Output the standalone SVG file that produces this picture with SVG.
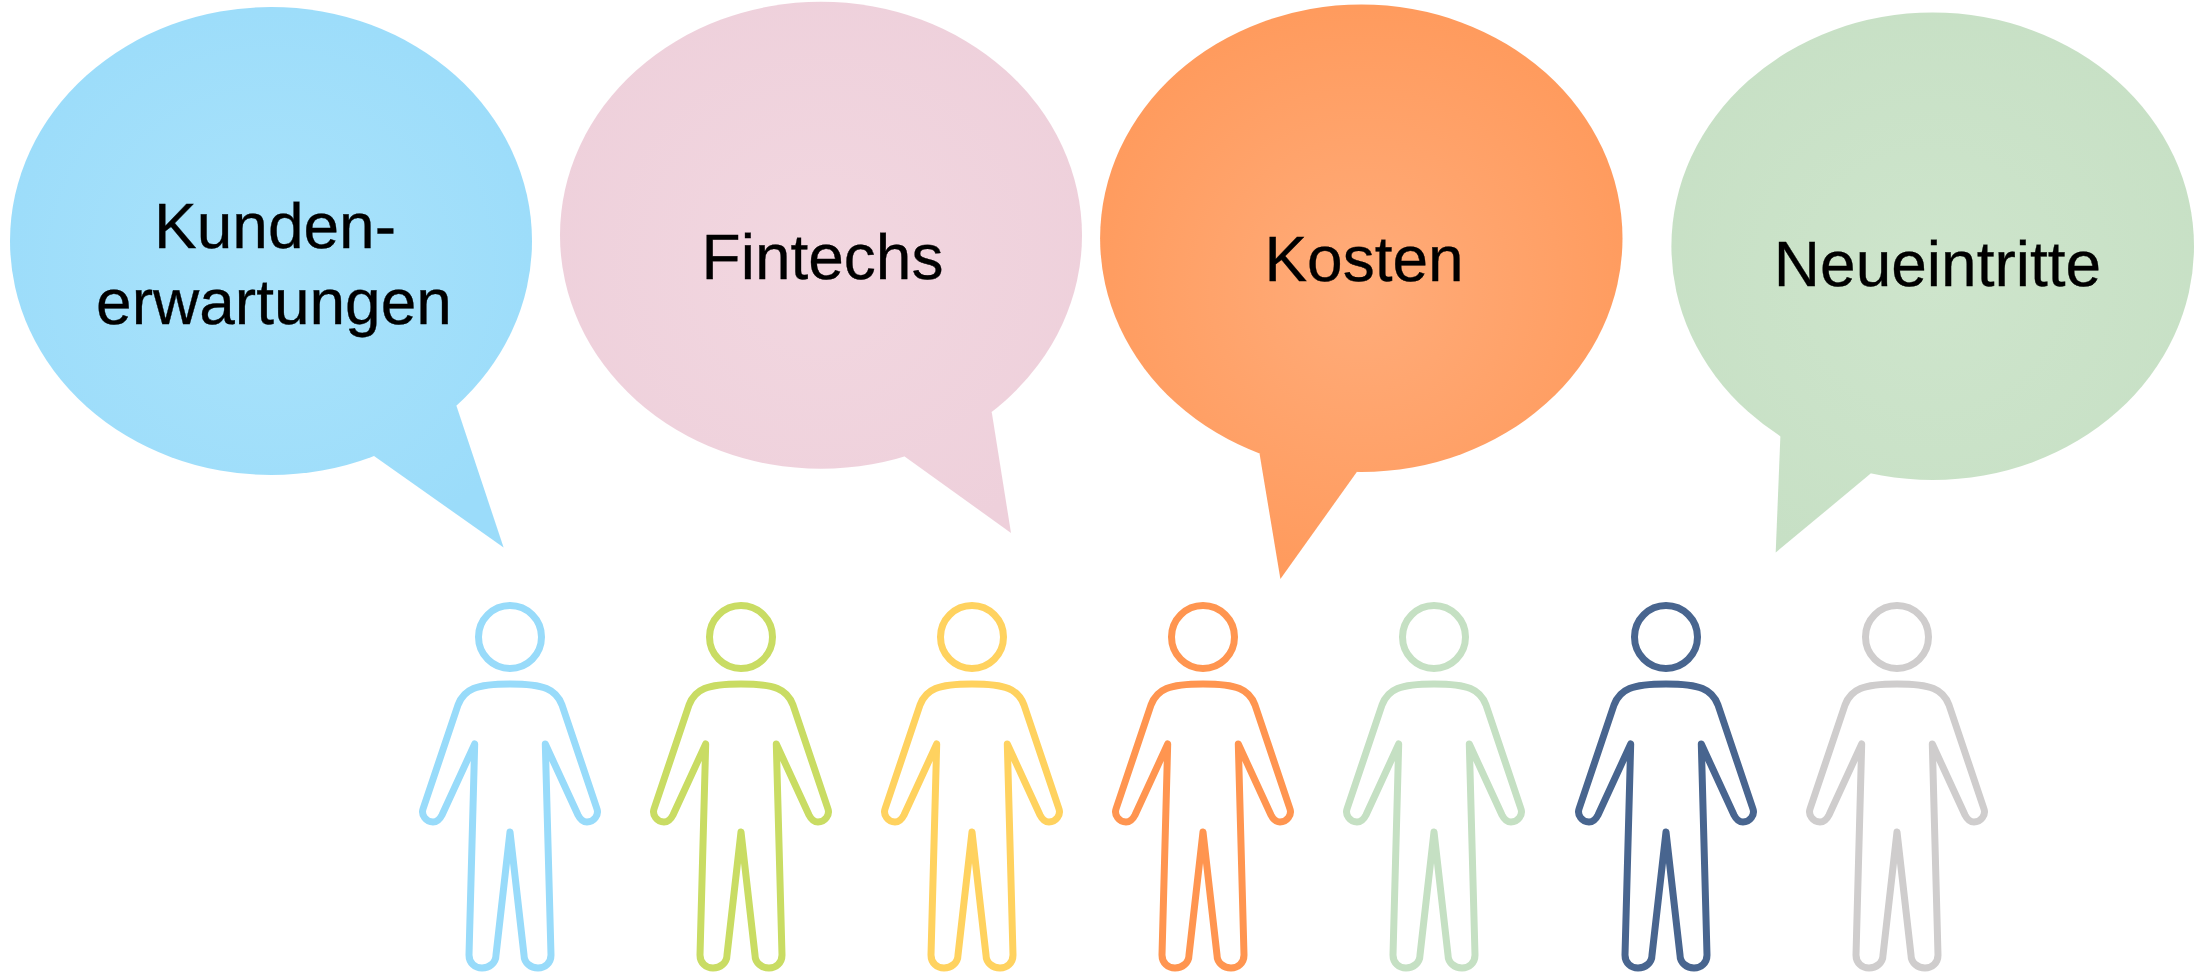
<svg xmlns="http://www.w3.org/2000/svg" width="2195" height="974" viewBox="0 0 2195 974">
<style>
text{font-family:"Liberation Sans",Arial,sans-serif;font-size:64px;fill:#000;stroke:#000;stroke-width:.35;text-anchor:middle;text-rendering:geometricPrecision}
.p{fill:none;stroke-width:7;stroke-linejoin:round;stroke-linecap:round}
</style>
<defs>
<radialGradient id="gb" gradientUnits="userSpaceOnUse" cx="271" cy="270" r="300"><stop offset="0" stop-color="#aae3fb"/><stop offset="1" stop-color="#9bdcfa"/></radialGradient>
<radialGradient id="gp" gradientUnits="userSpaceOnUse" cx="821" cy="265" r="300"><stop offset="0" stop-color="#f2d7e0"/><stop offset="1" stop-color="#eed0db"/></radialGradient>
<radialGradient id="go" gradientUnits="userSpaceOnUse" cx="1361" cy="290" r="300"><stop offset="0" stop-color="#ffac7a"/><stop offset="1" stop-color="#ff9a5c"/></radialGradient>
<radialGradient id="gg" gradientUnits="userSpaceOnUse" cx="1932" cy="280" r="300"><stop offset="0" stop-color="#cee5cc"/><stop offset="1" stop-color="#c7e0c5"/></radialGradient>
<g id="person">
<circle cx="0" cy="637" r="31.5"/>
<path d="M-35.3 744 L-41 955 C-41 963 -35 968 -28 968 C-21 968 -14 963 -14 955 L0 832 L14 955 C14 963 21 968 28 968 C35 968 41 963 41 955 L35.3 744 L68 815 C70 819 72 822 77 822 C84 822 89 815 87 809 L52 705 C46 689 34 684 0 684 C-34 684 -46 689 -52 705 L-87 809 C-89 815 -84 822 -77 822 C-72 822 -70 819 -68 815 Z"/>
</g>
</defs>
<g id="bubble-kunden">
<ellipse fill="url(#gb)" cx="271" cy="241" rx="261" ry="234"/>
<polygon fill="url(#gb)" points="374,456 400,380 456.5,406 503.6,547.5"/>
<text x="275" y="248">Kunden-</text>
<text x="274" y="324">erwartungen</text>
</g>
<g id="bubble-fintechs">
<ellipse fill="url(#gp)" cx="821" cy="235.3" rx="261" ry="233.5"/>
<polygon fill="url(#gp)" points="904.6,456.4 950,380 991.8,412.5 1011,533"/>
<text x="822.5" y="279.3">Fintechs</text>
</g>
<g id="bubble-kosten">
<ellipse fill="url(#go)" cx="1361.3" cy="238.3" rx="261.2" ry="233.7"/>
<polygon fill="url(#go)" points="1259.6,454 1300,400 1356.8,472 1280.4,579"/>
<text x="1364" y="281">Kosten</text>
</g>
<g id="bubble-neueintritte">
<ellipse fill="url(#gg)" cx="1932.7" cy="246.3" rx="261.3" ry="233.7"/>
<polygon fill="url(#gg)" points="1780.4,435.7 1830,400 1870.7,473.6 1775.7,552.5"/>
<text x="1937.5" y="285.7">Neueintritte</text>
</g>
<g id="person-1" class="p" stroke="#98dbfa"><use href="#person" x="510"/></g>
<g id="person-2" class="p" stroke="#c9dc63"><use href="#person" x="741"/></g>
<g id="person-3" class="p" stroke="#ffd25f"><use href="#person" x="972"/></g>
<g id="person-4" class="p" stroke="#ff9550"><use href="#person" x="1203"/></g>
<g id="person-5" class="p" stroke="#c5e0c3"><use href="#person" x="1434"/></g>
<g id="person-6" class="p" stroke="#48658f"><use href="#person" x="1666"/></g>
<g id="person-7" class="p" stroke="#cfcdcd"><use href="#person" x="1897"/></g>
<g id="connectors"/>
</svg>
